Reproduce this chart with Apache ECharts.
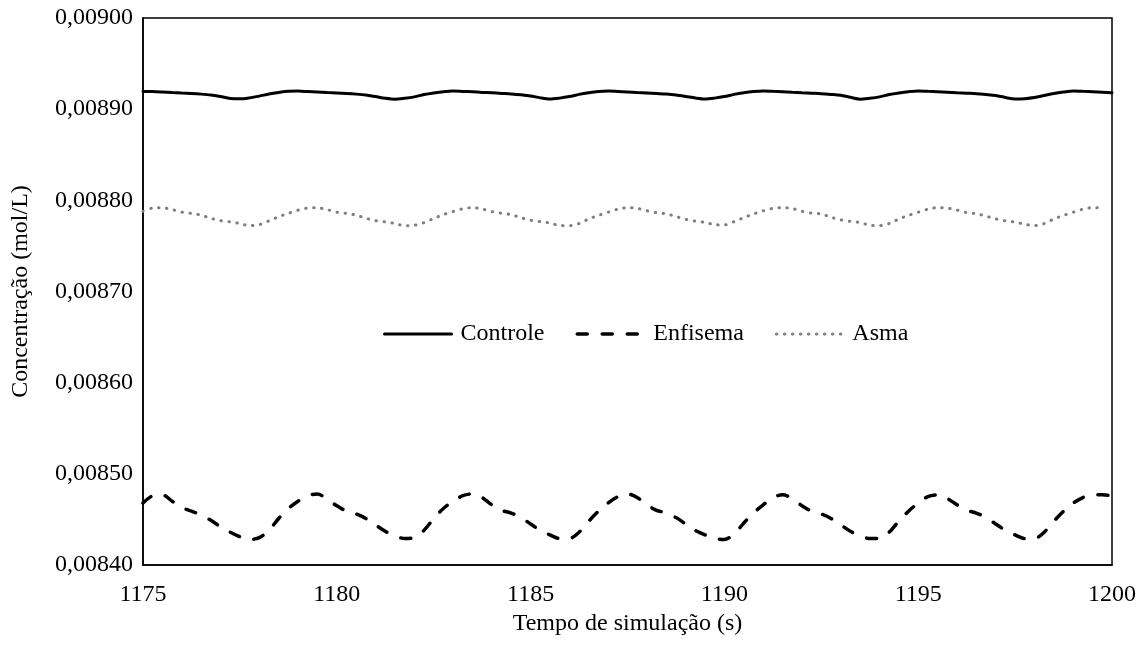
<!DOCTYPE html>
<html>
<head>
<meta charset="utf-8">
<script src="https://cdn.jsdelivr.net/npm/echarts@6/dist/echarts.min.js"></script>
<style>
html, body { margin: 0; padding: 0; background: #ffffff; }
#chart { width: 1147px; height: 646px; }
</style>
</head>
<body>
<div id="chart"></div>
<script>
// Sampling of the simulation output: one value every 0.25 s from 1175 s to 1200 s
const tStart = 1175;
const tStep = 0.25;

// Concentration (mol/L)
const controle = [
  0.0089195, 0.0089193, 0.0089188, 0.0089182,
  0.0089177, 0.0089172, 0.0089165, 0.0089155,
  0.0089138, 0.0089118, 0.0089113, 0.0089124,
  0.0089143, 0.0089166, 0.0089183, 0.0089196,
  0.0089198, 0.0089193, 0.0089188, 0.0089182,
  0.0089177, 0.0089172, 0.0089165, 0.0089155,
  0.0089138, 0.0089120, 0.0089110, 0.0089120,
  0.0089135, 0.0089160, 0.0089178, 0.0089192,
  0.0089199, 0.0089195, 0.0089190, 0.0089184,
  0.0089179, 0.0089173, 0.0089167, 0.0089158,
  0.0089145, 0.0089124, 0.0089111, 0.0089121,
  0.0089138, 0.0089162, 0.0089180, 0.0089193,
  0.0089198, 0.0089194, 0.0089189, 0.0089183,
  0.0089178, 0.0089172, 0.0089166, 0.0089156,
  0.0089140, 0.0089122, 0.0089111, 0.0089121,
  0.0089138, 0.0089162, 0.0089180, 0.0089193,
  0.0089200, 0.0089196, 0.0089192, 0.0089186,
  0.0089180, 0.0089175, 0.0089170, 0.0089162,
  0.0089152, 0.0089130, 0.0089110, 0.0089120,
  0.0089135, 0.0089160, 0.0089178, 0.0089192,
  0.0089200, 0.0089196, 0.0089192, 0.0089186,
  0.0089180, 0.0089175, 0.0089170, 0.0089161,
  0.0089150, 0.0089128, 0.0089112, 0.0089115,
  0.0089127, 0.0089150, 0.0089172, 0.0089188,
  0.0089200, 0.0089196, 0.0089192, 0.0089186,
  0.0089180
];

const enfisema = [
  0.008468, 0.008476, 0.008477, 0.008470,
  0.008463, 0.008459, 0.008455, 0.008449,
  0.008442, 0.008436, 0.008431, 0.008428,
  0.008430, 0.008438, 0.008451, 0.008462,
  0.008470, 0.008476, 0.008478, 0.008472,
  0.008465, 0.008459, 0.008456, 0.008451,
  0.008444, 0.008437, 0.008432, 0.008429,
  0.008430, 0.008438, 0.008451, 0.008462,
  0.008470, 0.008476, 0.008478, 0.008474,
  0.008466, 0.008460, 0.008457, 0.008452,
  0.008445, 0.008438, 0.008433, 0.008429,
  0.008429, 0.008436, 0.008448, 0.008459,
  0.008468, 0.008475, 0.008478, 0.008474,
  0.008466, 0.008460, 0.008457, 0.008452,
  0.008445, 0.008438, 0.008433, 0.008429,
  0.008428, 0.008434, 0.008446, 0.008457,
  0.008466, 0.008474, 0.008477, 0.008473,
  0.008465, 0.008459, 0.008456, 0.008451,
  0.008444, 0.008437, 0.008432, 0.008429,
  0.008429, 0.008436, 0.008448, 0.008459,
  0.008468, 0.008475, 0.008477, 0.008473,
  0.008466, 0.008460, 0.008457, 0.008452,
  0.008445, 0.008438, 0.008433, 0.008429,
  0.008429, 0.008436, 0.008448, 0.008459,
  0.008468, 0.008474, 0.008477, 0.008477,
  0.008476
];

const asma = [
  0.0087880, 0.0087915, 0.0087918, 0.0087898,
  0.0087870, 0.0087857, 0.0087838, 0.0087803,
  0.0087777, 0.0087764, 0.0087745, 0.0087722,
  0.0087733, 0.0087775, 0.0087820, 0.0087857,
  0.0087892, 0.0087915, 0.0087918, 0.0087898,
  0.0087870, 0.0087857, 0.0087838, 0.0087803,
  0.0087777, 0.0087764, 0.0087745, 0.0087722,
  0.0087727, 0.0087755, 0.0087802, 0.0087843,
  0.0087878, 0.0087907, 0.0087920, 0.0087905,
  0.0087876, 0.0087858, 0.0087843, 0.0087810,
  0.0087782, 0.0087767, 0.0087751, 0.0087724,
  0.0087722, 0.0087745, 0.0087795, 0.0087835,
  0.0087870, 0.0087903, 0.0087920, 0.0087913,
  0.0087886, 0.0087864, 0.0087852, 0.0087822,
  0.0087792, 0.0087772, 0.0087759, 0.0087733,
  0.0087730, 0.0087766, 0.0087810, 0.0087850,
  0.0087885, 0.0087912, 0.0087920, 0.0087910,
  0.0087880, 0.0087860, 0.0087850, 0.0087815,
  0.0087786, 0.0087769, 0.0087757, 0.0087727,
  0.0087722, 0.0087745, 0.0087795, 0.0087835,
  0.0087870, 0.0087903, 0.0087920, 0.0087915,
  0.0087893, 0.0087866, 0.0087853, 0.0087826,
  0.0087797, 0.0087775, 0.0087761, 0.0087738,
  0.0087722, 0.0087745, 0.0087795, 0.0087835,
  0.0087870, 0.0087903, 0.0087920, 0.0087918,
  null
];

const seriesNames = ['Controle', 'Enfisema', 'Asma'];

// Axis ranges and tick spacing
const xMin = 1175, xMax = 1200, xInterval = 5;
const yMin = 0.0084, yMax = 0.0090, yInterval = 0.0001;

const FONT = "'Times New Roman', 'Liberation Serif', serif";

// Line styles shared by the series and their legend entries
const styles = {
  Controle: { color: '#000000', width: 3, type: 'solid', cap: 'round' },
  Enfisema: { color: '#000000', width: 3.5, type: [10, 15], cap: 'round' },
  Asma: { color: '#7f7f7f', width: 3, type: [0.5, 7.5], cap: 'round' }
};

function pairs(values) {
  return values.map((v, i) => [tStart + i * tStep, v]);
}

function lineSeries(name, values) {
  return {
    name: name,
    type: 'line',
    data: pairs(values),
    showSymbol: false,
    symbol: 'none',
    smooth: 0.3,
    lineStyle: styles[name],
    itemStyle: { color: styles[name].color }
  };
}

const chart = echarts.init(document.getElementById('chart'), null, { renderer: 'canvas' });

chart.setOption({
  animation: false,
  backgroundColor: '#ffffff',
  grid: {
    left: 143,
    right: 35,
    top: 18,
    bottom: 81,
    show: true,
    borderColor: '#000000',
    borderWidth: 1.5,
    outerBoundsMode: 'none'
  },
  legend: {
    data: seriesNames.map(n => ({
      name: n,
      itemStyle: { opacity: 0 },
      lineStyle: styles[n]
    })),
    left: 383,
    top: 322,
    padding: 0,
    itemWidth: 67,
    itemHeight: 22,
    itemGap: 31,
    itemStyle: { opacity: 0 },
    textStyle: {
      fontFamily: FONT,
      fontSize: 24,
      color: '#000000',
      padding: [0, 0, 0, 4]
    }
  },
  xAxis: {
    type: 'value',
    min: xMin,
    max: xMax,
    interval: xInterval,
    name: 'Tempo de simulação (s)',
    nameLocation: 'middle',
    nameGap: 47,
    nameTextStyle: { fontFamily: FONT, fontSize: 24, color: '#000000' },
    axisLine: { show: true, lineStyle: { color: '#000000', width: 1.5 } },
    axisTick: { show: false },
    splitLine: { show: false },
    axisLabel: {
      fontFamily: FONT,
      fontSize: 24,
      color: '#000000',
      margin: 18,
      formatter: v => String(v)
    }
  },
  yAxis: {
    type: 'value',
    min: yMin,
    max: yMax,
    interval: yInterval,
    name: 'Concentração (mol/L)',
    nameLocation: 'middle',
    nameGap: 110,
    nameTextStyle: { fontFamily: FONT, fontSize: 24, color: '#000000' },
    axisLine: { show: true, lineStyle: { color: '#000000', width: 1.5 } },
    axisTick: { show: false },
    splitLine: { show: false },
    axisLabel: {
      fontFamily: FONT,
      fontSize: 24,
      color: '#000000',
      margin: 10,
      formatter: v => v.toFixed(5).replace('.', ',')
    }
  },
  series: [
    lineSeries('Controle', controle),
    lineSeries('Enfisema', enfisema),
    lineSeries('Asma', asma)
  ]
});
</script>
</body>
</html>
